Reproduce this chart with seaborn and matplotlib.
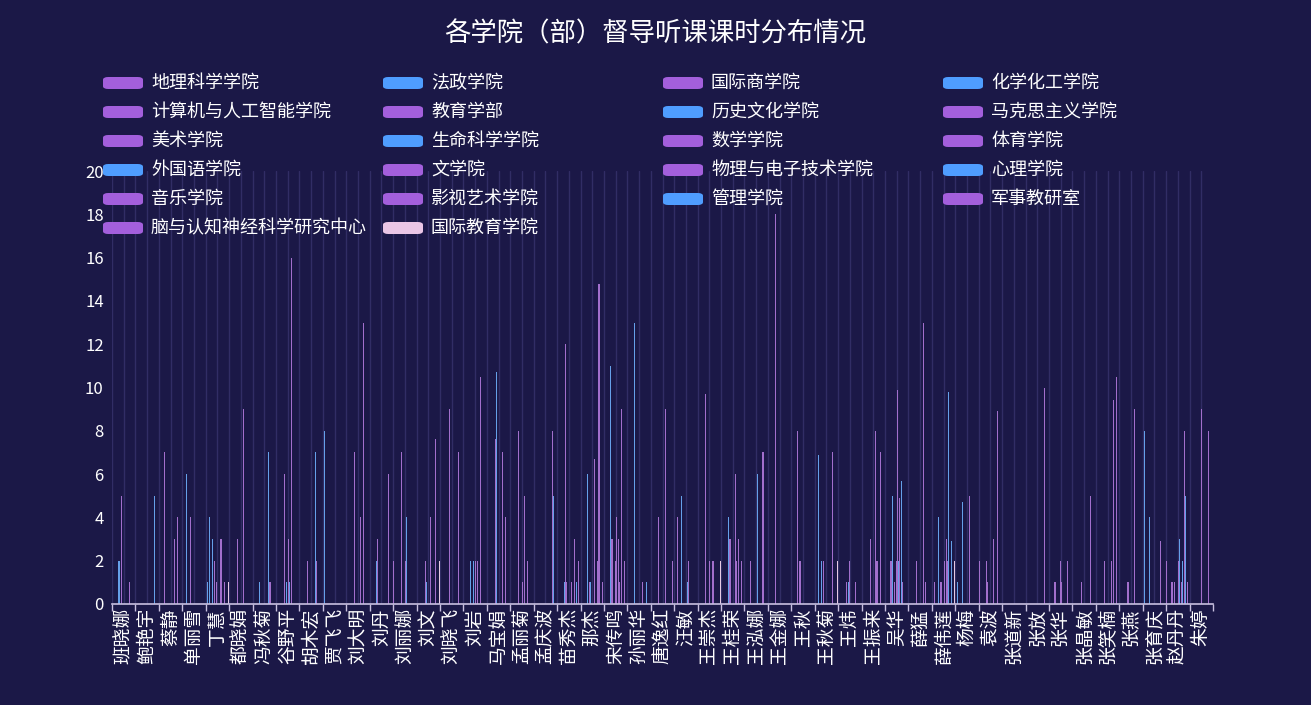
import matplotlib
matplotlib.use("Agg")
import matplotlib.pyplot as plt
import seaborn as sns
import pandas as pd
from matplotlib.patches import FancyBboxPatch

colleges = ["地理科学学院", "法政学院", "国际商学院", "化学化工学院",
            "计算机与人工智能学院", "教育学部", "历史文化学院", "马克思主义学院",
            "美术学院", "生命科学学院", "数学学院", "体育学院",
            "外国语学院", "文学院", "物理与电子技术学院", "心理学院",
            "音乐学院", "影视艺术学院", "管理学院", "军事教研室",
            "脑与认知神经科学研究中心", "国际教育学院"]
college_colors = ["#a35fdc", "#4f9dff", "#a35fdc", "#4f9dff",
                  "#a35fdc", "#a35fdc", "#4f9dff", "#a35fdc",
                  "#a35fdc", "#4f9dff", "#a35fdc", "#a35fdc",
                  "#4f9dff", "#a35fdc", "#a35fdc", "#4f9dff",
                  "#a35fdc", "#a35fdc", "#4f9dff", "#a35fdc",
                  "#a35fdc", "#eac6e6"]

teachers = ["班晓娜", "鲍艳宇", "蔡静", "单丽雪", "丁慧", "都晓娟", "冯秋菊", "谷野平",
            "胡木宏", "贾飞飞", "刘大明", "刘丹", "刘丽娜", "刘文", "刘晓飞", "刘岩",
            "马宝娟", "孟丽菊", "孟庆波", "苗秀杰", "那杰", "宋传鸣", "孙丽华", "唐逸红",
            "汪敏", "王崇杰", "王桂荣", "王泓娜", "王金娜", "王秋", "王秋菊", "王炜",
            "王振来", "吴华", "薛猛", "薛伟莲", "杨梅", "袁波", "张道新", "张放",
            "张华", "张晶敏", "张笑楠", "张燕", "张育庆", "赵丹丹", "朱婷"]

# (college index, hours) per teacher
hours = [
    [(6, 2), (8, 5), (16, 1)],
    [(18, 5)],
    [(5, 7), (14, 3), (17, 4)],
    [(3, 6), (7, 4)],
    [(1, 1), (3, 4), (6, 3), (8, 2), (10, 1), (13, 3), (14, 3), (17, 1), (21, 1)],
    [(7, 3), (13, 9)],
    [(6, 1), (15, 7), (16, 1)],
    [(7, 6), (9, 1), (11, 3), (12, 1), (14, 16)],
    [(7, 2), (15, 7), (16, 2)],
    [(1, 8)],
    [(7, 7), (13, 4), (16, 13)],
    [(6, 2), (7, 3), (17, 6)],
    [(0, 2), (7, 7), (11, 2), (12, 4)],
    [(8, 2), (9, 1), (13, 4), (17, 7.6), (21, 2)],
    [(8, 9), (17, 7)],
    [(6, 2), (9, 2), (11, 2), (13, 2), (16, 10.5)],
    [(8, 7.6), (9, 10.7), (14, 7), (17, 4)],
    [(7, 8), (11, 1), (13, 5), (16, 2)],
    [(17, 8), (18, 5)],
    [(6, 1), (7, 12), (8, 1), (13, 1), (16, 3), (18, 1), (20, 2)],
    [(6, 6), (8, 1), (9, 1), (13, 6.7), (16, 2), (17, 14.8), (20, 1)],
    [(6, 11), (7, 3), (10, 2), (11, 4), (13, 3), (14, 1), (16, 9), (19, 2)],
    [(6, 13), (14, 1), (18, 1)],
    [(7, 4), (13, 9), (20, 2)],
    [(2, 4), (6, 5), (12, 1), (13, 2)],
    [(7, 9.7), (11, 2), (14, 2), (21, 2)],
    [(6, 4), (7, 3), (8, 3), (13, 6), (14, 2), (16, 3), (19, 2)],
    [(5, 2), (12, 6), (17, 7)],
    [(7, 18)],
    [(5, 8), (7, 2), (8, 2)],
    [(3, 6.9), (6, 2), (8, 2), (16, 7), (21, 2)],
    [(7, 1), (9, 1), (10, 2), (16, 1)],
    [(8, 3), (13, 8), (14, 2), (17, 7)],
    [(5, 2), (6, 5), (8, 1), (10, 2), (11, 9.9), (12, 2), (13, 4.9), (15, 5.7), (16, 1)],
    [(7, 2), (14, 13), (16, 1)],
    [(2, 1), (6, 4), (8, 1), (11, 2), (13, 3), (14, 2), (15, 9.8), (18, 2.9), (21, 2)],
    [(1, 1), (6, 4.7), (13, 5)],
    [(0, 2), (7, 2), (8, 1), (13, 3), (17, 8.9)],
    [],
    [(17, 10)],
    [(5, 1), (10, 2), (11, 1), (17, 2)],
    [(8, 1), (17, 5)],
    [(8, 2), (14, 2), (16, 9.4), (19, 10.5)],
    [(7, 1), (8, 1), (14, 9)],
    [(1, 8), (6, 4), (16, 2.9)],
    [(0, 2), (4, 1), (5, 1), (7, 1), (11, 2), (12, 3), (14, 1), (15, 2), (17, 8), (18, 5), (20, 1)],
    [(11, 9), (17, 8)],
]

rows = []
for t, items in zip(teachers, hours):
    for ci, v in items:
        rows.append({"教师": t, "学院": colleges[ci], "课时": v})
df = pd.DataFrame(rows)

bg = "#1b1847"
sns.set_theme(style="dark")
plt.rcParams['font.family'] = ['Noto Sans CJK SC', 'DejaVu Sans']

W, H = 1311, 705
fig = plt.figure(figsize=(W / 100, H / 100), dpi=100, facecolor=bg)
ax = fig.add_axes([112 / W, 1 - 604 / H, (1213 - 112) / W, (604 - 171) / H])
ax.set_facecolor(bg)

n = len(teachers)
for i in range(n):
    for off in (-0.5, 0.0):
        ax.axvline(i + off, color="#3b3672", lw=1.0, alpha=0.7, zorder=0)

sns.barplot(data=df, x="教师", y="课时", hue="学院", order=teachers, hue_order=colleges,
            palette=dict(zip(colleges, college_colors)), width=0.98, dodge=True,
            errorbar=None, ax=ax, legend=False, linewidth=0, zorder=2)

ax.set_xlim(-0.5, n - 0.5)
ax.set_ylim(0, 20)
ax.set_yticks(range(0, 21, 2))
ax.set_xlabel("")
ax.set_ylabel("")
ax.tick_params(axis="y", colors="white", labelsize=12, length=0, pad=6)
ax.set_xticks([i - 0.5 for i in range(n + 1)], minor=True)
ax.set_xticks(range(n))
ax.set_xticklabels(teachers, rotation=90, va="top", ha="center")
ax.tick_params(axis="x", which="major", length=0, labelsize=13.5, labelcolor="white", pad=3)
ax.tick_params(axis="x", which="minor", length=5, color="#c8c0e0", bottom=True)
for s in ["top", "right", "left"]:
    ax.spines[s].set_visible(False)
ax.spines["bottom"].set_color("#c8c0e0")
ax.spines["bottom"].set_linewidth(1.2)
ax.grid(False)

fig.text(0.5, 1 - 34 / H, "各学院（部）督导听课课时分布情况", ha="center", va="center",
         color="white", fontsize=19)

# legend: 4 columns filled row by row
for k, (name, col) in enumerate(zip(colleges, college_colors)):
    r, c = divmod(k, 4)
    x0 = 103 + 280 * c
    yc = 83 + 29 * r
    fig.patches.append(FancyBboxPatch((x0 / W, (H - yc - 6) / H), 40 / W, 12 / H,
                                      boxstyle="round,pad=0,rounding_size=0.004",
                                      transform=fig.transFigure, facecolor=col,
                                      edgecolor="none"))
    fig.text((x0 + 48) / W, 1 - yc / H, name, ha="left", va="center",
             color="white", fontsize=13)

fig.savefig("out.png", dpi=100, facecolor=bg)
